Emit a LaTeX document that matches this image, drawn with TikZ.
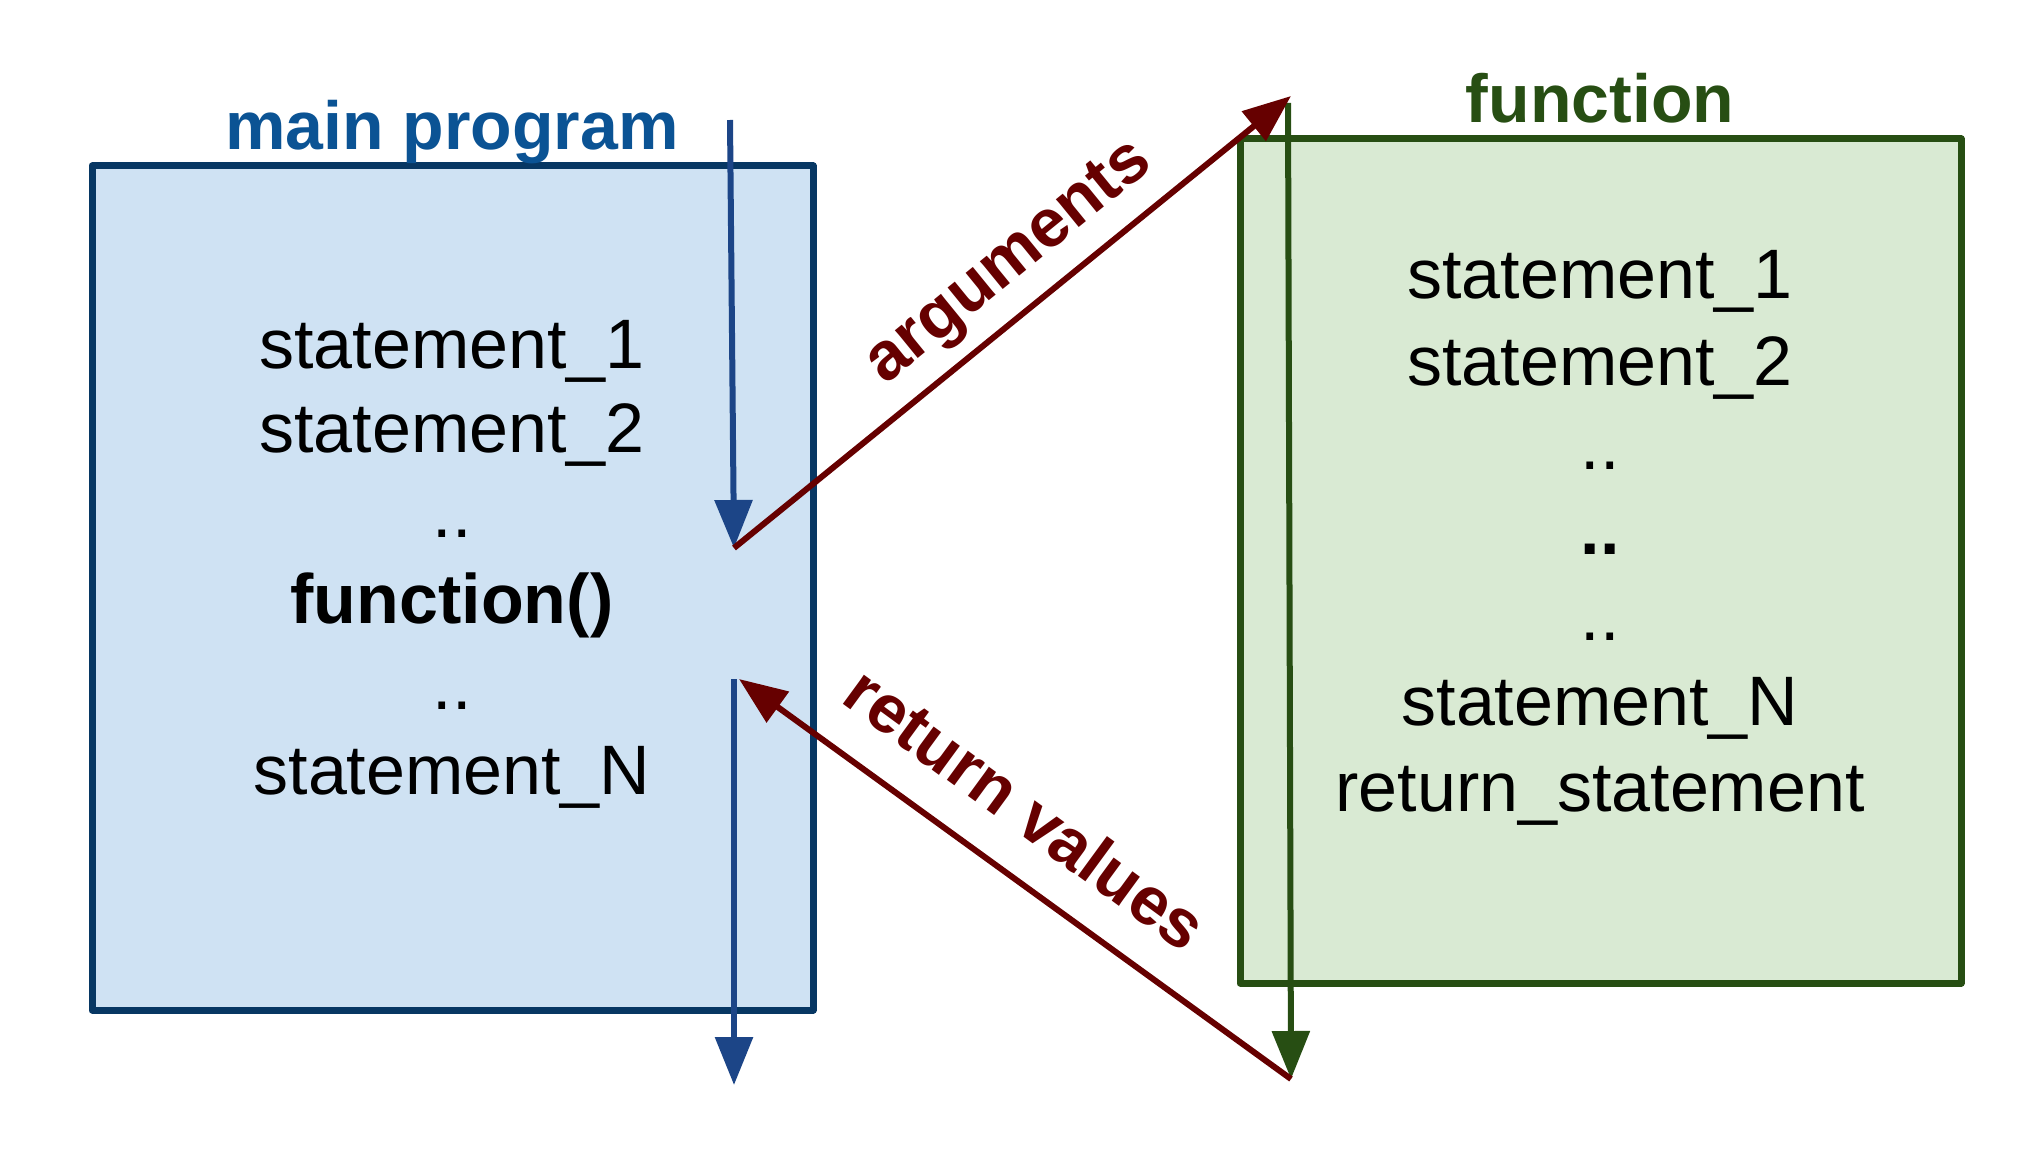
\documentclass[tikz,border=0pt]{standalone}
\usepackage{fontspec}
\setmainfont{Liberation Sans}
\usetikzlibrary{arrows.meta}
\definecolor{mainfill}{HTML}{CFE2F3}
\definecolor{mainborder}{HTML}{073763}
\definecolor{mainarrow}{HTML}{1C4587}
\definecolor{maintitle}{HTML}{0B5394}
\definecolor{funcfill}{HTML}{D9EAD3}
\definecolor{funcgreen}{HTML}{274E13}
\definecolor{darkred}{HTML}{660000}
\begin{document}
\begin{tikzpicture}[x=0.5pt,y=-0.5pt,
  txt/.style={anchor=base, inner sep=0pt, font=\fontsize{35}{40}\selectfont},
  ttl/.style={anchor=base, inner sep=0pt, font=\fontsize{34}{40}\selectfont\bfseries},
  lbl/.style={anchor=base, inner sep=0pt, text=darkred, font=\fontsize{34}{40}\selectfont\bfseries},
  flow/.style={line width=3pt, -{Triangle[length=24pt,width=18.5pt]}},
  boxstyle/.style={line width=3.5pt, line join=round, minimum width=360.5pt, minimum height=422pt, inner sep=0pt}]
\useasboundingbox (0,0) rectangle (2033,1150);

% boxes
\node[boxstyle, draw=mainborder, fill=mainfill] (mainbox) at (452.5,588) {};
\node[boxstyle, draw=funcgreen, fill=funcfill] (funcbox) at (1600.5,561) {};

% titles
\node[ttl, text=maintitle] (maintitle) at (452,150) {main program};
\node[ttl, text=funcgreen] (functitle) at (1600,123) {function};

% main program text
\node[txt] (m1) at (452,368) {statement\_1};
\node[txt] (m2) at (452,452) {statement\_2};
\node[txt] (m3) at (452,537) {..};
\node[txt, font=\fontsize{35}{40}\selectfont\bfseries] (m4) at (452,623) {function()};
\node[txt] (m5) at (452,709) {..};
\node[txt] (m6) at (452,794) {statement\_N};

% function text
\node[txt] (f1) at (1600,299) {statement\_1};
\node[txt] (f2) at (1600,385) {statement\_2};
\node[txt] (f3) at (1600,469) {..};
\node[txt, font=\fontsize{35}{40}\selectfont\bfseries] (f4) at (1600,554) {..};
\node[txt] (f5) at (1600,640) {..};
\node[txt] (f6) at (1600,725) {statement\_N};
\node[txt] (f7) at (1600,811) {return\_statement};

% flow coordinates
\coordinate (inTop) at (730,120);
\coordinate (callPt) at (734,548);
\coordinate (argTip) at (1291,96);
\coordinate (fTop) at (1288,103);
\coordinate (fEnd) at (1291,1079);
\coordinate (retTip) at (739,679);
\coordinate (outTop) at (734,679);
\coordinate (outEnd) at (734,1085);

% connectors
\draw[flow, mainarrow] (inTop) -- (callPt);
\draw[flow, funcgreen] (fTop) -- (fEnd);
\draw[flow, darkred] (callPt) -- (argTip);
\draw[flow, darkred] (fEnd) -- (retTip);
\draw[flow, mainarrow] (outTop) -- (outEnd);

% labels
\node[lbl, rotate=39.2] (arglbl) at (1020,276) {arguments};
\node[lbl, rotate=-36.2] (retlbl) at (1012,828) {return values};
\end{tikzpicture}
\end{document}
